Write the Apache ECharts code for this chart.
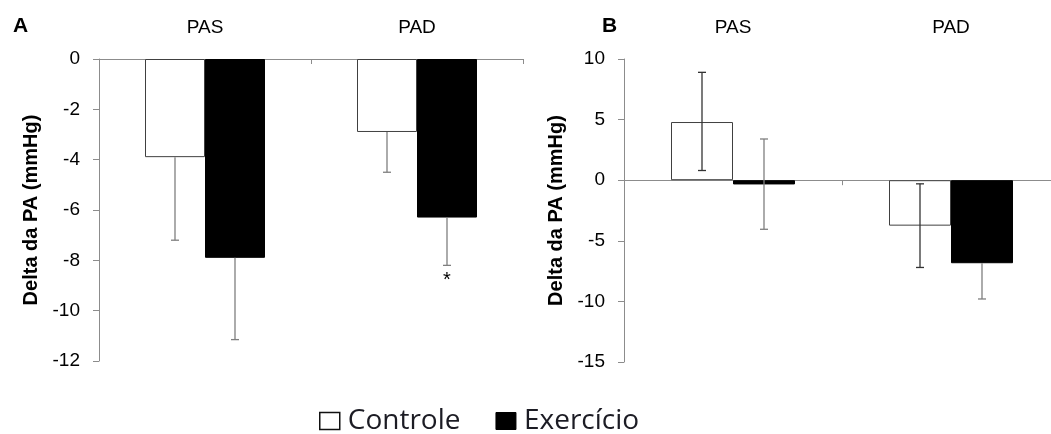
<!DOCTYPE html>
<html>
<head>
<meta charset="utf-8">
<script src="https://cdn.jsdelivr.net/npm/echarts@6/dist/echarts.min.js"></script>
<style>
  html, body { margin: 0; padding: 0; background: #fff; overflow: hidden; }
  #chart { width: 1066px; height: 434px; }
</style>
</head>
<body>
<div id="chart"></div>
<script>
var chartDom = document.getElementById('chart');
var myChart = echarts.init(chartDom);
var option;

// categories
const categories = ['PAS', 'PAD'];

// panel A (mean and ends of error bar)
const controleA = [-3.9, -2.9];
const exercicioA = [-7.9, -6.3];
const controleA_lo = [-7.2, -4.5];
const controleA_hi = [-3.9, -2.9];
const exercicioA_lo = [-11.15, -8.2];
const exercicioA_hi = [-7.9, -6.3];
const signifA = [false, true];

// panel B
const controleB = [4.8, -3.75];
const exercicioB = [-0.35, -6.85];
const controleB_lo = [0.8, -7.2];
const controleB_hi = [8.9, -0.3];
const exercicioB_lo = [-4.05, -9.8];
const exercicioB_hi = [3.4, -6.85];

const ticksA = [-12, 0, 2];   // min, max, interval
const ticksB = [-15, 10, 5];

const font = 'Liberation Sans, Arial, sans-serif';
const axisGray = '#8c8c8c';

function errData(vals, lo, hi, sig) {
  return vals.map(function (v, i) {
    return [i, lo[i], hi[i], hi[i] !== v ? 1 : 0, sig && sig[i] ? 1 : 0];
  });
}

function errSeries(gridIdx, data, side, color) {
  return {
    type: 'custom',
    xAxisIndex: gridIdx * 2 + 1,
    yAxisIndex: gridIdx,
    z: 5,
    silent: true,
    data: data,
    encode: { x: 0, y: [1, 2] },
    renderItem: function (params, api) {
      var i = api.value(0);
      var bw = gridIdx === 0 ? 60 : 62;
      var pLo = api.coord([i, api.value(1)]);
      var pHi = api.coord([i, api.value(2)]);
      var x = pLo[0] + side * bw / 2;
      var cap = 4;
      var st = { stroke: color, lineWidth: 1.3 };
      var kids = [
        { type: 'line', shape: { x1: x, y1: pHi[1], x2: x, y2: pLo[1] }, style: st },
        { type: 'line', shape: { x1: x - cap, y1: pLo[1], x2: x + cap, y2: pLo[1] }, style: st }
      ];
      if (api.value(3)) {
        kids.push({ type: 'line', shape: { x1: x - cap, y1: pHi[1], x2: x + cap, y2: pHi[1] }, style: st });
      }
      if (api.value(4)) {
        kids.push({ type: 'text', style: { text: '*', x: x, y: pLo[1] + 5, align: 'center', verticalAlign: 'top',
          fontSize: 20, fontFamily: font, fill: '#000' } });
      }
      return { type: 'group', children: kids };
    }
  };
}

function yAxis(gridIdx, t) {
  return {
    type: 'value', gridIndex: gridIdx, min: t[0], max: t[1], interval: t[2],
    name: 'Delta da PA (mmHg)', nameLocation: 'middle', nameGap: 58, nameRotate: 90,
    nameTextStyle: { fontFamily: font, fontSize: 20, fontWeight: 'bold', color: '#000' },
    axisLine: { show: true, lineStyle: { color: axisGray, width: 1 } },
    axisTick: { show: true, length: 6, lineStyle: { color: axisGray } },
    axisLabel: { fontFamily: font, fontSize: 19, color: '#000', margin: 19 },
    splitLine: { show: false }
  };
}

function xAxes(gridIdx) {
  return [
    {
      type: 'category', gridIndex: gridIdx, data: categories, position: 'top',
      axisLine: { show: false, onZero: false }, axisTick: { show: false },
      axisLabel: { fontFamily: font, fontSize: 19, color: '#000', margin: 22 }
    },
    {
      type: 'category', gridIndex: gridIdx, data: categories, position: 'bottom',
      axisLine: { show: true, onZero: true, lineStyle: { color: axisGray, width: 1 } },
      axisTick: { show: true, length: 5, lineStyle: { color: axisGray } },
      axisLabel: { show: false }
    }
  ];
}

function bars(gridIdx, ctrl, ex, bw) {
  return [
    {
      name: 'Controle', type: 'bar', xAxisIndex: gridIdx * 2 + 1, yAxisIndex: gridIdx,
      data: ctrl, barWidth: bw, barGap: '0%',
      itemStyle: { color: '#fff', borderColor: '#404040', borderWidth: 1 }
    },
    {
      name: 'Exercício', type: 'bar', xAxisIndex: gridIdx * 2 + 1, yAxisIndex: gridIdx,
      data: ex, barWidth: bw, barGap: '0%',
      itemStyle: { color: '#000', borderColor: '#000', borderWidth: 1 }
    }
  ];
}

option = {
  animation: false,
  backgroundColor: '#fff',
  title: [
    { text: 'A', left: 8, top: 11, textStyle: { fontFamily: font, fontSize: 21, fontWeight: 'bold', color: '#000' } },
    { text: 'B', left: 597, top: 11, textStyle: { fontFamily: font, fontSize: 21, fontWeight: 'bold', color: '#000' } }
  ],
  legend: {
    left: 314, top: 402,
    itemWidth: 20, itemHeight: 17, itemGap: 35,
    icon: 'rect',
    textStyle: { fontFamily: 'Open Sans, sans-serif', fontSize: 28, color: '#1c1c24', padding: [0, 0, 0, 3] },
    data: [
      { name: 'Controle', itemStyle: { color: '#fff', borderColor: '#111', borderWidth: 1.5 } },
      { name: 'Exercício', itemStyle: { color: '#000', borderColor: '#000', borderWidth: 1 } }
    ]
  },
  grid: [
    { left: 99, top: 59, width: 424, height: 302 },
    { left: 624, top: 59, width: 436, height: 303 }
  ],
  xAxis: xAxes(0).concat(xAxes(1)),
  yAxis: [yAxis(0, ticksA), yAxis(1, ticksB)],
  series: []
    .concat(bars(0, controleA, exercicioA, 60))
    .concat(bars(1, controleB, exercicioB, 62))
    .concat([
      errSeries(0, errData(controleA, controleA_lo, controleA_hi), -1, '#7f7f7f'),
      errSeries(0, errData(exercicioA, exercicioA_lo, exercicioA_hi, signifA), 1, '#7f7f7f'),
      errSeries(1, errData(controleB, controleB_lo, controleB_hi), -1, '#333'),
      errSeries(1, errData(exercicioB, exercicioB_lo, exercicioB_hi), 1, '#7f7f7f')
    ])
};

option && myChart.setOption(option);
</script>
</body>
</html>
